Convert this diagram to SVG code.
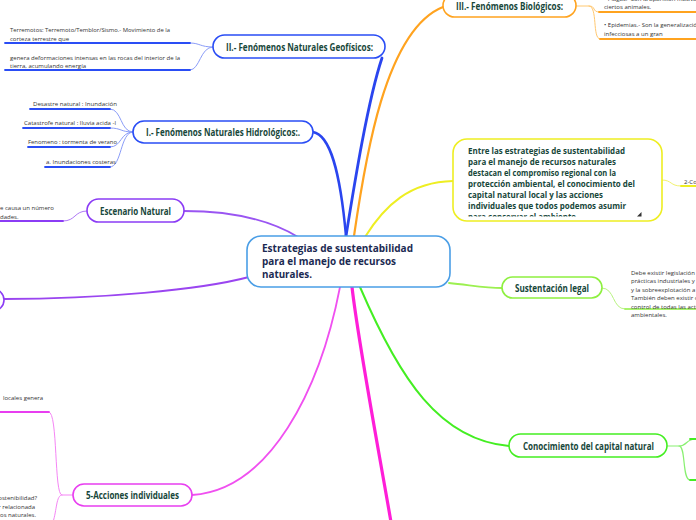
<svg xmlns="http://www.w3.org/2000/svg" width="696" height="520" viewBox="0 0 696 520">
<style>
.lbl{font-family:"Open Sans","Noto Sans",sans-serif;font-weight:700;fill:#17473a}
.ctr{font-family:"Open Sans","Noto Sans",sans-serif;font-weight:700;fill:#1b2a52;font-size:11px}
.sm{font-family:"Open Sans","Noto Sans",sans-serif;fill:#333;font-size:6px}
.node{fill:#fff;stroke-width:1.6}
.ln{fill:none;stroke-linecap:round}
</style>
<defs>
<clipPath id="yclip"><rect x="455" y="141" width="205" height="75.5"/></clipPath>
</defs>
<rect width="696" height="520" fill="#fff"/>

<g id="connectors">
  <path class="ln" d="M346,236 C355,180 368,100 382,58" stroke="#2a45ef" stroke-width="2.8"/>
  <path class="ln" d="M346,236 C340,170 330,135 313,132" stroke="#2a45ef" stroke-width="2.5"/>
  <path class="ln" d="M354,236 C365,160 385,30 443,7" stroke="#ffa31f" stroke-width="2.2"/>
  <path class="ln" d="M365,237 C385,205 410,182 453,181" stroke="#eeee22" stroke-width="2"/>
  <path class="ln" d="M298,237 C270,220 230,211 184,211" stroke="#9a55f2" stroke-width="1.8"/>
  <path class="ln" d="M249,277 C200,290 100,299 4,299" stroke="#9a45f0" stroke-width="2"/>
  <path class="ln" d="M449,283 C470,285 485,288 502,288" stroke="#9cf050" stroke-width="1.8"/>
  <path class="ln" d="M360,287 C400,380 440,440 509,446" stroke="#44ee22" stroke-width="2"/>
  <path class="ln" d="M340,287 C320,390 270,490 192,495" stroke="#f050f0" stroke-width="1.8"/>
  <path class="ln" d="M352,287 C358,340 375,430 391,522" stroke="#ff1ed8" stroke-width="3.2"/>

  <path class="ln" d="M213,47 C200,47 200,43 190,43" stroke="#8a9cf8" stroke-width="1"/>
  <path class="ln" d="M213,47 C200,47 200,70 190,70" stroke="#8a9cf8" stroke-width="1"/>
  <path class="ln" d="M5,43 H190 M5,70 H190" stroke="#2a4df5" stroke-width="1.8"/>

  <path class="ln" d="M133,132 C120,132 122,109 110,109" stroke="#8a9cf8" stroke-width="1"/>
  <path class="ln" d="M133,132 C120,132 122,128 110,128" stroke="#8a9cf8" stroke-width="1"/>
  <path class="ln" d="M133,132 C120,132 122,147 110,147" stroke="#8a9cf8" stroke-width="1"/>
  <path class="ln" d="M133,132 C120,132 122,167 110,167" stroke="#8a9cf8" stroke-width="1"/>
  <path class="ln" d="M30,109 H110 M23,128 H110 M28,147 H110 M45,167 H110" stroke="#2a4df5" stroke-width="1.8"/>

  <path class="ln" d="M87,211 C74,211 76,221 63,221" stroke="#b07af5" stroke-width="1"/>
  <path class="ln" d="M0,221 H63" stroke="#8b3cf5" stroke-width="1.8"/>

  <path class="ln" d="M576,6 H589 C596,6 592,12 599,12" stroke="#ffc870" stroke-width="1"/>
  <path class="ln" d="M589,6 C598,6 592,39 600,39" stroke="#ffc870" stroke-width="1"/>
  <path class="ln" d="M599,12 H696 M600,39 H696" stroke="#ffa31f" stroke-width="1.8"/>

  <path class="ln" d="M662,180 C672,180 670,186 681,186" stroke="#f2f270" stroke-width="1"/>
  <path class="ln" d="M681,186 H696" stroke="#eeee22" stroke-width="1.8"/>

  <path class="ln" d="M602,288 C615,288 612,309 625,309" stroke="#b8f380" stroke-width="1"/>
  <path class="ln" d="M625,309 H696" stroke="#8ef040" stroke-width="1.6"/>

  <path class="ln" d="M667,446 H679 C688,446 685,439 696,439" stroke="#88f070" stroke-width="1.2"/>
  <path class="ln" d="M679,446 C686,446 682,480 690,480 H696" stroke="#88f070" stroke-width="1.2"/>
  <path class="ln" d="M690,439 H696 M690,480 H696" stroke="#44ee22" stroke-width="1.8"/>

  <path class="ln" d="M73,495 H62 C54,495 58,412 49,412" stroke="#f585f5" stroke-width="1"/>
  <path class="ln" d="M62,495 C56,495 57,510 53,522" stroke="#f585f5" stroke-width="1"/>
  <path class="ln" d="M0,412 H49" stroke="#e83ef0" stroke-width="1.8"/>
</g>

<g id="center">
  <rect class="node" x="247" y="236" width="203" height="51" rx="14" stroke="#4a9ee6"/>
  <text class="ctr" x="262" y="252" textLength="151" lengthAdjust="spacingAndGlyphs">Estrategias de sustentabilidad</text>
  <text class="ctr" x="262" y="265" textLength="134" lengthAdjust="spacingAndGlyphs">para el manejo de recursos</text>
  <text class="ctr" x="262" y="278" textLength="50" lengthAdjust="spacingAndGlyphs">naturales.</text>
</g>

<g id="n-geofisicos">
  <rect class="node" x="213" y="35" width="172" height="23" rx="11.5" stroke="#2a4df5"/>
  <text class="lbl" x="226" y="50.5" font-size="10" textLength="147" lengthAdjust="spacingAndGlyphs">II.- Fenómenos Naturales Geofísicos:</text>
</g>
<g id="n-geofisicos-1">
  <text class="sm" x="10" y="31.5" textLength="160" lengthAdjust="spacingAndGlyphs">Terremotos: Terremoto/Temblor/Sismo.- Movimiento de la</text>
  <text class="sm" x="10" y="41" textLength="59" lengthAdjust="spacingAndGlyphs">corteza terrestre que</text>
</g>
<g id="n-geofisicos-2">
  <text class="sm" x="10" y="59.5" textLength="170" lengthAdjust="spacingAndGlyphs">genera deformaciones intensas en las rocas del interior de la</text>
  <text class="sm" x="10" y="67.5" textLength="76" lengthAdjust="spacingAndGlyphs">tierra, acumulando energía</text>
</g>

<g id="n-hidrologicos">
  <rect class="node" x="133" y="121" width="180" height="22" rx="11" stroke="#2a4df5"/>
  <text class="lbl" x="146" y="135.5" font-size="10" textLength="154" lengthAdjust="spacingAndGlyphs">I.- Fenómenos Naturales Hidrológicos:.</text>
</g>
<g id="n-hidro-1"><text class="sm" x="117" y="105.5" text-anchor="end" textLength="84" lengthAdjust="spacingAndGlyphs">Desastre natural : Inundación</text></g>
<g id="n-hidro-2"><text class="sm" x="116" y="124.5" text-anchor="end" textLength="92" lengthAdjust="spacingAndGlyphs">Catastrofe natural : lluvia acida -l</text></g>
<g id="n-hidro-3"><text class="sm" x="117" y="144" text-anchor="end" textLength="89" lengthAdjust="spacingAndGlyphs">Fenomeno : tormenta de verano</text></g>
<g id="n-hidro-4"><text class="sm" x="116" y="163.5" text-anchor="end" textLength="70" lengthAdjust="spacingAndGlyphs">a. Inundaciones costeras</text></g>

<g id="n-escenario">
  <rect class="node" x="87" y="199" width="97" height="23" rx="11.5" stroke="#8b3cf5"/>
  <text class="lbl" x="100" y="214.5" font-size="10" textLength="71" lengthAdjust="spacingAndGlyphs">Escenario Natural</text>
</g>
<g id="n-escenario-1">
  <text class="sm" x="0" y="210">e causa un número</text>
  <text class="sm" x="0" y="218.5">dades.</text>
</g>

<g id="n-left">
  <rect class="node" x="-100" y="289" width="104" height="22" rx="11" stroke="#8b3cf5"/>
</g>

<g id="n-biologicos">
  <rect class="node" x="443" y="-6" width="133" height="23" rx="11.5" stroke="#ffa31f"/>
  <text class="lbl" x="456" y="9.5" font-size="10" textLength="107" lengthAdjust="spacingAndGlyphs">III.- Fenómenos Biológicos:</text>
</g>
<g id="n-bio-1">
  <text class="sm" x="604" y="0.5">• Plagas.- Son la aparición masiva y repentina de</text>
  <text class="sm" x="604" y="8.5">ciertos animales.</text>
</g>
<g id="n-bio-2">
  <text class="sm" x="604" y="27">• Epidemias.- Son la generalización</text>
  <text class="sm" x="604" y="35.5">infecciosas a un gran</text>
</g>

<g id="n-entre">
  <rect class="node" x="453" y="139" width="209" height="82" rx="14" stroke="#eeee22"/>
  <g clip-path="url(#yclip)" class="lbl" font-size="8.6">
    <text x="468" y="154" textLength="157" lengthAdjust="spacingAndGlyphs">Entre las estrategias de sustentabilidad</text>
    <text x="468" y="165" textLength="148" lengthAdjust="spacingAndGlyphs">para el manejo de recursos naturales</text>
    <text x="468" y="176" textLength="148" lengthAdjust="spacingAndGlyphs">destacan el compromiso regional con la</text>
    <text x="468" y="187" textLength="167" lengthAdjust="spacingAndGlyphs">protección ambiental, el conocimiento del</text>
    <text x="468" y="197.5" textLength="135" lengthAdjust="spacingAndGlyphs">capital natural local y las acciones</text>
    <text x="468" y="208.5" textLength="158" lengthAdjust="spacingAndGlyphs">individuales que todos podemos asumir</text>
    <text x="468" y="219.5" textLength="108" lengthAdjust="spacingAndGlyphs">para conservar el ambiente</text>
  </g>
  <polygon points="637,216.5 641.5,216.5 641.5,212" fill="#333"/>
</g>
<g id="n-entre-1"><text class="sm" x="684" y="183.5">2-Co</text></g>

<g id="n-legal">
  <rect class="node" x="502" y="277" width="100" height="21" rx="10.5" stroke="#8ef040"/>
  <text class="lbl" x="515" y="291.5" font-size="10" textLength="74" lengthAdjust="spacingAndGlyphs">Sustentación legal</text>
</g>
<g id="n-legal-1">
  <text class="sm" x="631" y="274.5">Debe existir legislación</text>
  <text class="sm" x="631" y="283">prácticas industriales y</text>
  <text class="sm" x="631" y="291.5">y la sobreexplotación a</text>
  <text class="sm" x="631" y="300">También deben existir c</text>
  <text class="sm" x="631" y="308.5">control de todas las acti</text>
  <text class="sm" x="631" y="317">ambientales.</text>
</g>

<g id="n-capital">
  <rect class="node" x="509" y="434" width="158" height="23" rx="11.5" stroke="#44ee22"/>
  <text class="lbl" x="523" y="449.5" font-size="10" textLength="131" lengthAdjust="spacingAndGlyphs">Conocimiento del capital natural</text>
</g>

<g id="n-acciones">
  <rect class="node" x="73" y="484" width="119" height="22" rx="11" stroke="#e83ef0"/>
  <text class="lbl" x="86" y="498.5" font-size="10" textLength="93" lengthAdjust="spacingAndGlyphs">5-Acciones individuales</text>
</g>
<g id="n-acciones-1"><text class="sm" x="3" y="400">locales genera</text></g>
<g id="n-acciones-2">
  <text class="sm" x="37" y="499.5" text-anchor="end">ostenibilidad?</text>
  <text class="sm" x="35" y="508.5" text-anchor="end">r relacionada</text>
  <text class="sm" x="36" y="517" text-anchor="end">ros naturales.</text>
</g>
</svg>
